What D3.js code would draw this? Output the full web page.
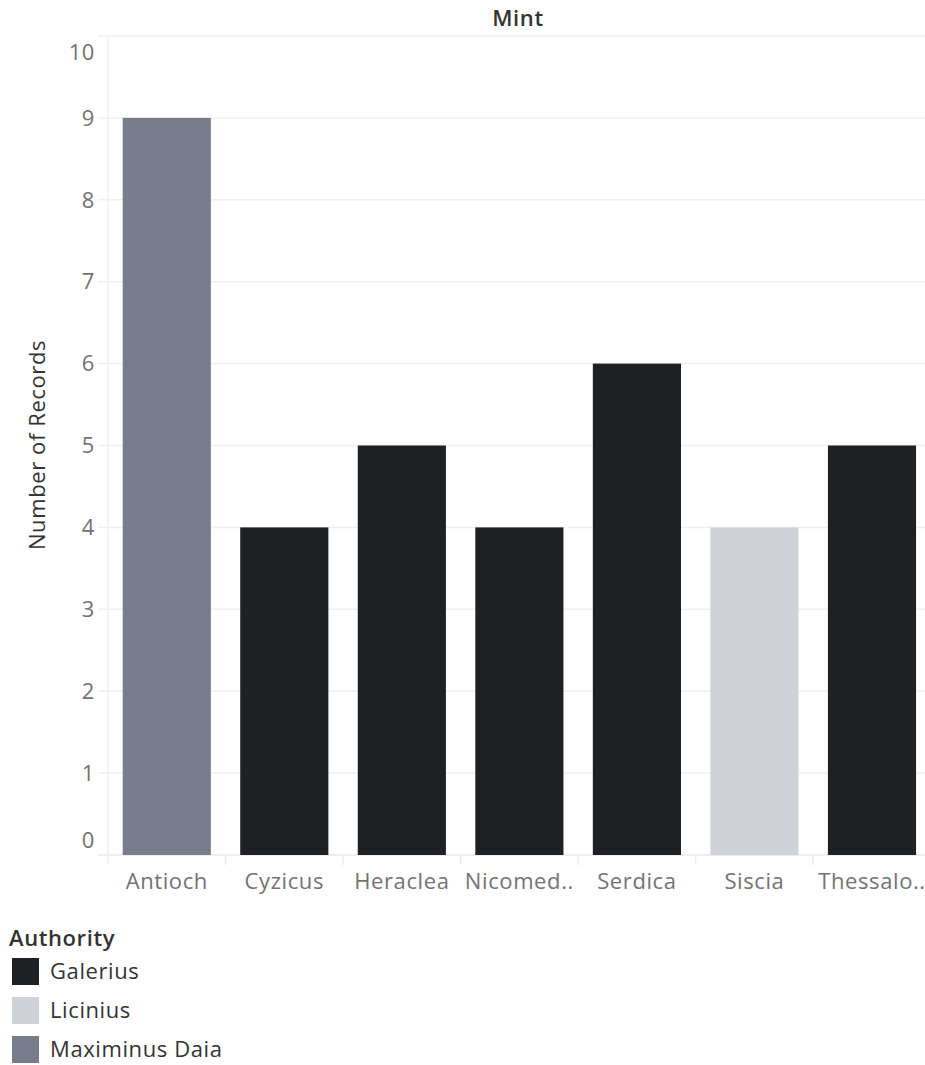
<!DOCTYPE html>
<html>
<head>
<meta charset="utf-8">
<script src="https://cdn.jsdelivr.net/npm/d3@7"></script>
<style>
  html, body { margin: 0; padding: 0; background: #fff; }
  svg { display: block; font-family: "Open Sans", "Noto Sans", sans-serif; letter-spacing: 0.6px; }
</style>
</head>
<body>
<svg id="chart" width="925" height="1065"></svg>
<script>
// Coin records per mint, coloured by issuing authority
const mints = ["Antioch", "Cyzicus", "Heraclea", "Nicomed..", "Serdica", "Siscia", "Thessalo.."];
const records = [9, 4, 5, 4, 6, 4, 5];
const authority = ["Maximinus Daia", "Galerius", "Galerius", "Galerius", "Galerius", "Licinius", "Galerius"];
const authorities = ["Galerius", "Licinius", "Maximinus Daia"];
const authorityColors = ["#1f2024", "#cfd2d6", "#777d8a"];
const yTicks = [0, 1, 2, 3, 4, 5, 6, 7, 8, 9, 10];

const svg = d3.select("#chart");
const plot = { left: 108, right: 930.75, top: 36, bottom: 855 };

const x = d3.scaleBand().domain(mints).range([plot.left, plot.right])
  .paddingInner(0.25).paddingOuter(0.125);
const y = d3.scaleLinear().domain([0, 10]).range([plot.bottom, plot.top]);
const color = d3.scaleOrdinal().domain(authorities).range(authorityColors);

// Gridlines
svg.append("g").selectAll("line").data(yTicks).join("line")
  .attr("x1", 98).attr("x2", 925)
  .attr("y1", d => y(d)).attr("y2", d => y(d))
  .attr("stroke", d => d === 0 ? "#e8e8e8" : "#f0f0f0")
  .attr("stroke-width", 1.5);

// Vertical axis line
svg.append("line")
  .attr("x1", plot.left).attr("x2", plot.left)
  .attr("y1", plot.top).attr("y2", plot.bottom + 10)
  .attr("stroke", "#f0f0f0").attr("stroke-width", 1.5);

// Category separators below the baseline
const bounds = mints.map(m => x(m) - x.step() * x.paddingInner() / 2);
svg.append("g").selectAll("line").data(bounds.slice(1)).join("line")
  .attr("x1", d => d).attr("x2", d => d)
  .attr("y1", plot.bottom + 1).attr("y2", plot.bottom + 10)
  .attr("stroke", "#ececec").attr("stroke-width", 1.5);

// Bars
svg.append("g").selectAll("rect").data(mints).join("rect")
  .attr("x", d => x(d))
  .attr("width", x.bandwidth())
  .attr("y", (d, i) => y(records[i]))
  .attr("height", (d, i) => y(0) - y(records[i]))
  .attr("fill", (d, i) => color(authority[i]));

// Y tick labels (end labels nudged inside the plot)
svg.append("g").selectAll("text").data(yTicks).join("text")
  .attr("x", 95)
  .attr("y", d => y(d) + (d === 10 ? 16 : d === 0 ? -15 : 0))
  .attr("dy", "0.35em")
  .attr("text-anchor", "end")
  .attr("font-size", 22)
  .attr("fill", "#737373")
  .text(d => d);

// X tick labels
svg.append("g").selectAll("text").data(mints).join("text")
  .attr("x", d => x(d) + x.bandwidth() / 2)
  .attr("y", 889)
  .attr("text-anchor", "middle")
  .attr("font-size", 22)
  .attr("fill", "#737373")
  .text(d => d);

// Column header
svg.append("text")
  .attr("x", 518).attr("y", 26)
  .attr("text-anchor", "middle")
  .attr("font-size", 22).attr("font-weight", 600)
  .attr("fill", "#333")
  .text("Mint");

// Y axis title
svg.append("text")
  .attr("transform", "translate(45,445) rotate(-90)")
  .attr("text-anchor", "middle")
  .attr("font-size", 22)
  .attr("fill", "#333")
  .text("Number of Records");

// Legend
const legend = svg.append("g");
legend.append("text")
  .attr("x", 9).attr("y", 946)
  .attr("font-size", 22).attr("font-weight", 600)
  .attr("fill", "#333")
  .text("Authority");
const items = legend.selectAll("g.item").data(authorities).join("g")
  .attr("class", "item")
  .attr("transform", (d, i) => `translate(12,${958 + i * 39})`);
items.append("rect").attr("width", 27).attr("height", 27).attr("fill", d => color(d));
items.append("text")
  .attr("x", 38).attr("y", 13.5).attr("dy", "0.35em")
  .attr("font-size", 22).attr("fill", "#333")
  .text(d => d);
</script>
</body>
</html>
